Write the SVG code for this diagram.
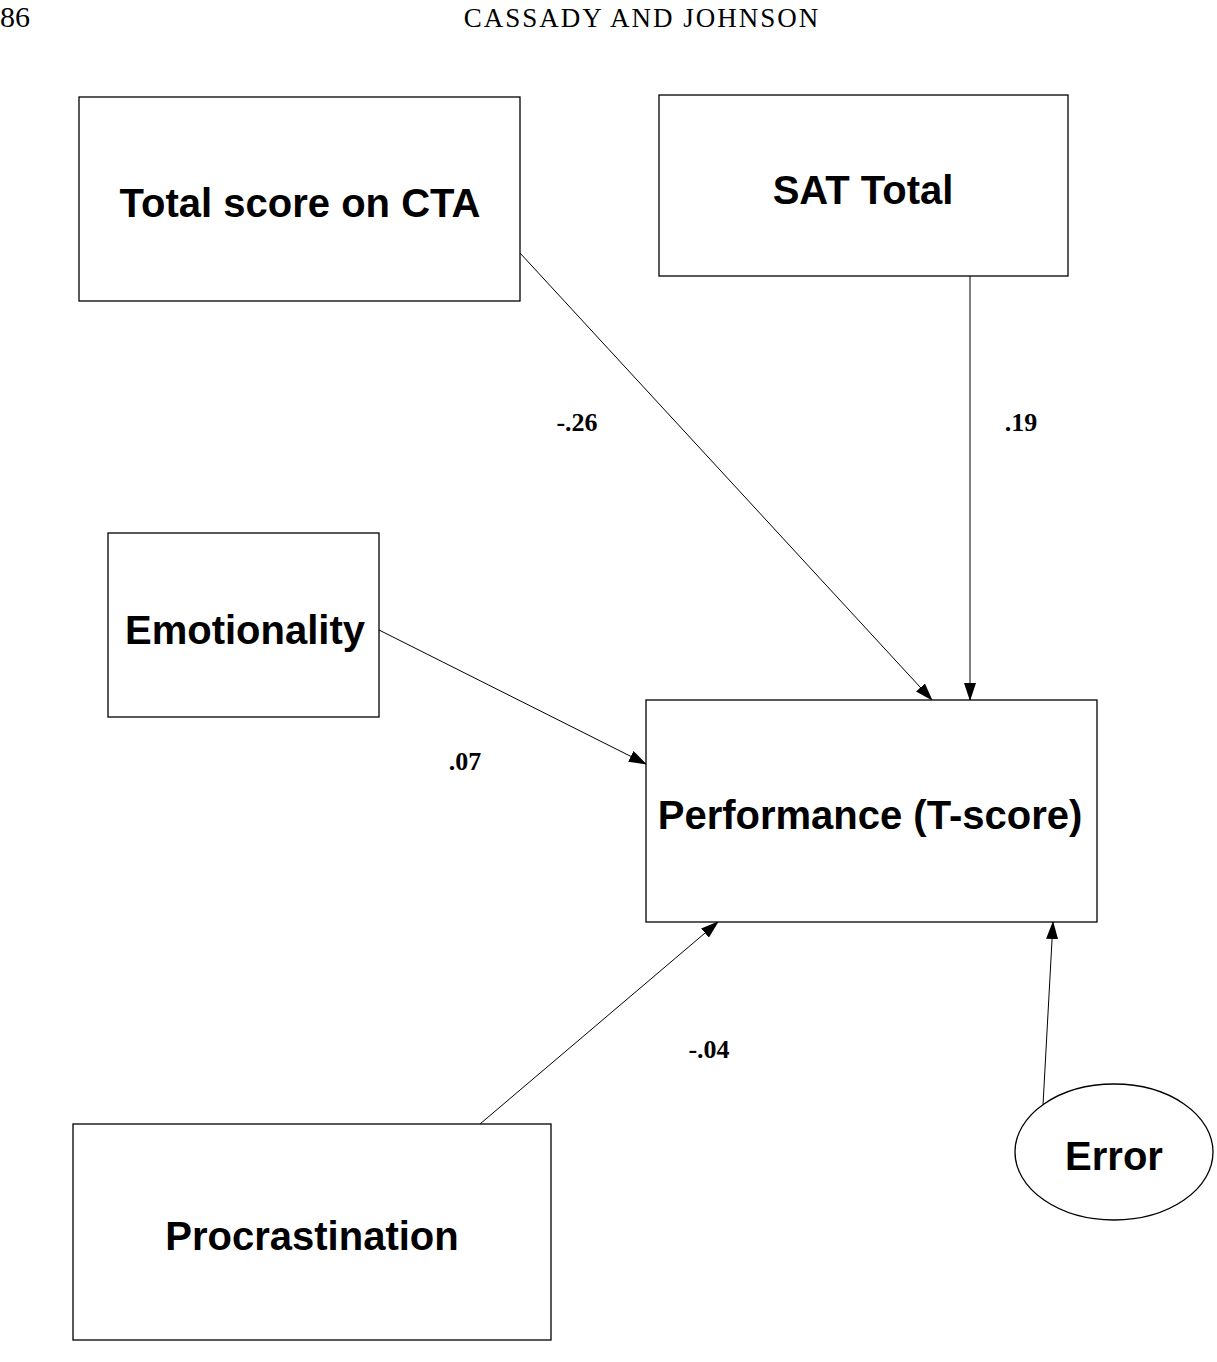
<svg xmlns="http://www.w3.org/2000/svg" width="1217" height="1362" viewBox="0 0 1217 1362">
<style>
.box{fill:#fff;stroke:#000;stroke-width:1.3}
.t{font-family:"Liberation Sans",Arial,sans-serif;font-size:40px;text-anchor:middle;fill:#000;font-weight:bold}
.l{font-family:"Liberation Serif","Times New Roman",serif;font-size:26px;font-weight:bold;text-anchor:middle}
.c{stroke:#000;stroke-width:1;fill:none;marker-end:url(#a)}
</style>
<defs><marker id="a" markerWidth="18" markerHeight="12" refX="17" refY="6" orient="auto" markerUnits="userSpaceOnUse"><path d="M0,0 L18,6 L0,12 Z" fill="#000"/></marker></defs>
<rect width="1217" height="1362" fill="#fff"/>
<text x="15" y="27" font-family="Liberation Serif,serif" font-size="30" text-anchor="middle">86</text>
<text x="642" y="27" font-family="Liberation Serif,serif" font-size="27" letter-spacing="2" text-anchor="middle">CASSADY AND JOHNSON</text>
<g id="connectors">
<line class="c" x1="520" y1="253" x2="932" y2="700"/>
<line class="c" x1="970" y1="276" x2="970" y2="700"/>
<line class="c" x1="379" y1="630" x2="646" y2="764"/>
<line class="c" x1="480" y1="1124" x2="718" y2="922"/>
<line class="c" x1="1043" y1="1105" x2="1053" y2="922"/>
<text class="l" x="577" y="431">-.26</text>
<text class="l" x="1021" y="431">.19</text>
<text class="l" x="465" y="770">.07</text>
<text class="l" x="709" y="1058">-.04</text>
</g>
<g id="cta"><rect class="box" x="79" y="97" width="441" height="204"/><text class="t" x="300" y="217">Total score on CTA</text></g>
<g id="sat"><rect class="box" x="659" y="95" width="409" height="181"/><text class="t" x="863" y="204">SAT Total</text></g>
<g id="emo"><rect class="box" x="108" y="533" width="271" height="184"/><text class="t" x="245" y="644">Emotionality</text></g>
<g id="perf"><rect class="box" x="646" y="700" width="451" height="222"/><text class="t" x="870" y="829">Performance (T-score)</text></g>
<g id="proc"><rect class="box" x="73" y="1124" width="478" height="216"/><text class="t" x="312" y="1250">Procrastination</text></g>
<g id="err"><ellipse class="box" cx="1114" cy="1152" rx="99" ry="68"/><text class="t" x="1114" y="1170">Error</text></g>
</svg>
